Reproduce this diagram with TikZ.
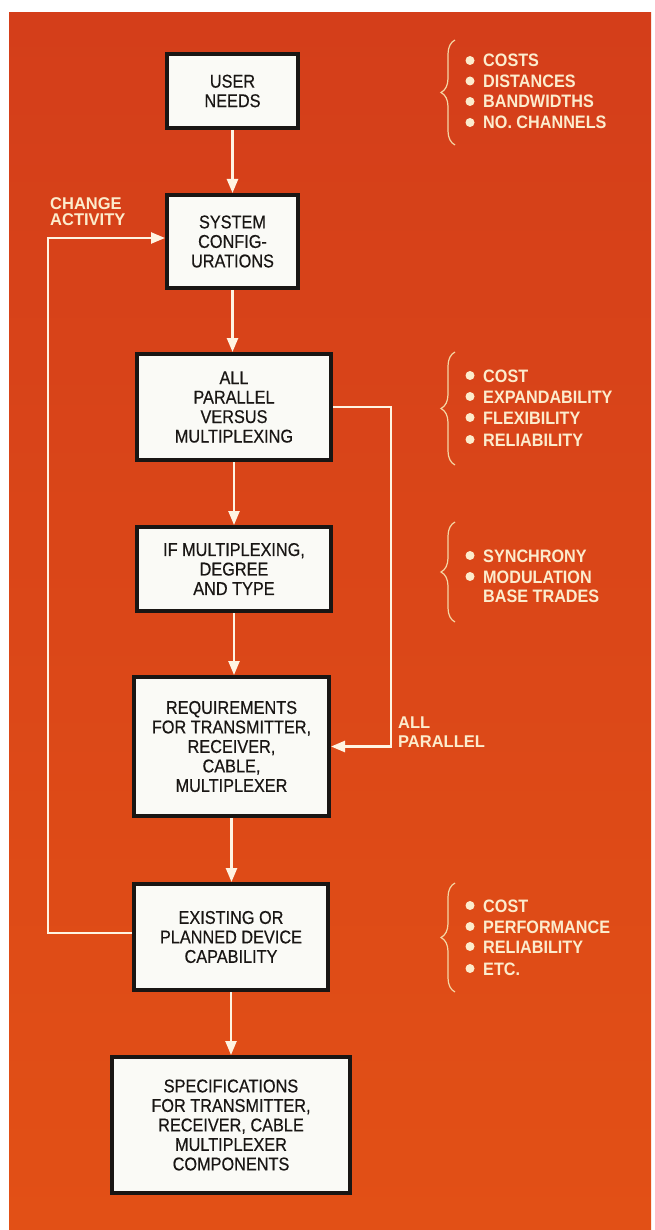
\documentclass[tikz,border=0pt]{standalone}
\usepackage{fontspec}
\setmainfont{Liberation Sans}
\newfontfamily\boxfont{Liberation Sans}[FakeStretch=0.88, FakeBold=0.4]
\newfontfamily\listfont{Liberation Sans}[FakeStretch=0.9]
\newfontfamily\sidefont{Liberation Sans}[FakeStretch=0.97]
\usetikzlibrary{arrows.meta,decorations.pathreplacing}
\definecolor{bgtop}{RGB}{212,62,26}
\definecolor{bgbot}{RGB}{226,80,22}
\definecolor{cream}{RGB}{255,244,226}
\definecolor{labcol}{RGB}{252,236,205}
\definecolor{bracecol}{RGB}{245,215,165}
\definecolor{boxfill}{RGB}{250,250,246}
\definecolor{ink}{RGB}{25,22,20}
\begin{document}
\begin{tikzpicture}[x=1pt,y=-1pt,
 stepbox/.style={draw=ink, line width=4pt, fill=boxfill, inner sep=0pt, outer sep=2pt, align=center,
   font=\boxfont\fontsize{18.5}{19.5}\selectfont, text=ink},
 flow/.style={draw=cream, line width=2.5pt, -{Triangle[length=14pt,width=11pt]}},
 bulletdot/.style={circle, fill=labcol, inner sep=0pt, minimum size=9pt},
 item/.style={anchor=base west, inner sep=0pt, text=labcol, font=\listfont\bfseries\fontsize{18}{21}\selectfont},
 sidelab/.style={anchor=north west, inner sep=0pt, align=left, text=labcol},
 bracelines/.style={draw=bracecol, line width=1.2pt, decorate, decoration={brace, amplitude=14pt}}
]
\useasboundingbox (0,0) rectangle (654,1230);
\fill[white] (0,0) rectangle (654,1230);
\shade[top color=bgtop, bottom color=bgbot] (9,13) rectangle (651,1230);

% boxes
\node[stepbox, minimum width=131pt, minimum height=74pt]  (box1) at (232.5,91)   {USER\\NEEDS};
\node[stepbox, minimum width=131pt, minimum height=93pt]  (box2) at (232.5,241.5) {SYSTEM\\CONFIG-\\URATIONS};
\node[stepbox, minimum width=194pt, minimum height=106pt] (box3) at (234,407)    {ALL\\PARALLEL\\VERSUS\\MULTIPLEXING};
\node[stepbox, minimum width=194pt, minimum height=84pt]  (box4) at (234,569)    {IF MULTIPLEXING,\\DEGREE\\AND TYPE};
\node[stepbox, minimum width=195pt, minimum height=139pt] (box5) at (231.5,746.5) {REQUIREMENTS\\FOR TRANSMITTER,\\RECEIVER,\\CABLE,\\MULTIPLEXER};
\node[stepbox, minimum width=194pt, minimum height=106pt] (box6) at (231,937)    {EXISTING OR\\PLANNED DEVICE\\CAPABILITY};
\node[stepbox, minimum width=238pt, minimum height=136pt] (box7) at (231,1125)   {SPECIFICATIONS\\FOR TRANSMITTER,\\RECEIVER, CABLE\\MULTIPLEXER\\COMPONENTS};

% main flow
\draw[flow] (box1.south) -- (box1.south |- box2.north);
\draw[flow] (box2.south) -- (box2.south |- box3.north);
\draw[flow] (box3.south) -- (box3.south |- box4.north);
\draw[flow] (box4.south) -- (box4.south |- box5.north);
\draw[flow] (box5.south) -- (box5.south |- box6.north);
\draw[flow] (box6.south) -- (box6.south |- box7.north);

% feedback loop
\coordinate (fbtop) at (48,238);
\draw[flow] ([yshift=4pt]box6.west) -| (fbtop) -- ([yshift=3.5pt]box2.west);

% all parallel branch
\coordinate (rb) at (391,746.5);
\draw[flow] (box3.east) -| (rb) -- (box5.east);

% side labels
\node[sidelab, font=\sidefont\bfseries\fontsize{17}{16}\selectfont] (lchange) at (50,197) {CHANGE\\ACTIVITY};
\node[sidelab, font=\sidefont\bfseries\fontsize{17}{18.5}\selectfont] (lpar) at (398,717) {ALL\\PARALLEL};

% braces
\draw[bracelines] (455,145) -- (455,40);
\draw[bracelines] (455,465) -- (455,352);
\draw[bracelines] (455,622) -- (455,522);
\draw[bracelines] (455,992) -- (455,883);

% lists
\foreach \txt/\yy [count=\i] in {COSTS/67, DISTANCES/87.5, BANDWIDTHS/108, NO. CHANNELS/129} {
  \node[bulletdot] (da\i) at (470,\yy-6.5) {};
  \node[item] (ta\i) at (483,\yy) {\txt};
}
\foreach \txt/\yy [count=\i] in {COST/382, EXPANDABILITY/403, FLEXIBILITY/424, RELIABILITY/446} {
  \node[bulletdot] (db\i) at (470,\yy-6.5) {};
  \node[item] (tb\i) at (483,\yy) {\txt};
}
\foreach \txt/\yy [count=\i] in {SYNCHRONY/562, MODULATION/583} {
  \node[bulletdot] (dc\i) at (470,\yy-6.5) {};
  \node[item] (tc\i) at (483,\yy) {\txt};
}
\node[item] (tc3) at (483,602) {BASE TRADES};
\foreach \txt/\yy [count=\i] in {COST/912, PERFORMANCE/933, RELIABILITY/953, ETC./975} {
  \node[bulletdot] (dd\i) at (470,\yy-6.5) {};
  \node[item] (td\i) at (483,\yy) {\txt};
}
\end{tikzpicture}
\end{document}
